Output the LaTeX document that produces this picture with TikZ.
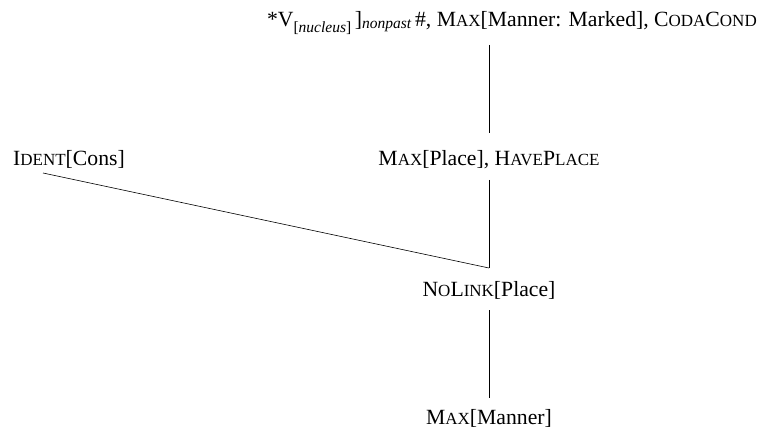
\documentclass[tikz,border=0pt]{standalone}
\usepackage{fontspec}
\setmainfont{Liberation Serif}
\newcommand{\fsc}[2]{#1{\fontsize{17}{19}\selectfont #2}}
\newcommand{\subtxt}[2]{\raisebox{#1}{\fontsize{15.5}{16}\selectfont #2}}
\begin{document}
\begin{tikzpicture}[x=1pt,y=-1pt,
  lbl/.style={inner sep=0pt, anchor=base, font=\fontsize{21.7}{25}\selectfont},
  conn/.style={draw=black, line width=0.6pt}]
\useasboundingbox (0,0) rectangle (760,430);
\node[lbl, anchor=base east] (top) at (757,27) {*V\subtxt{-6pt}{[\textit{nucleus}]}\,]\subtxt{-2pt}{\textit{nonpast}}\,\#, \fsc{M}{AX}[Manner: Marked], \fsc{C}{ODA}\fsc{C}{OND}};
\node[lbl] (mid) at (489,166) {\fsc{M}{AX}[Place], \fsc{H}{AVE}\fsc{P}{LACE}};
\node[lbl] (ident) at (69,166) {\fsc{I}{DENT}[Cons]};
\node[lbl] (nolink) at (489,297) {\fsc{N}{O}\fsc{L}{INK}[Place]};
\node[lbl] (maxm) at (489,424) {\fsc{M}{AX}[Manner]};
\coordinate (a1) at (489,45);
\coordinate (a2) at (489,133);
\coordinate (b1) at (489,180);
\coordinate (b2) at (489,268);
\coordinate (c1) at (43,173);
\coordinate (d1) at (489,310);
\coordinate (d2) at (489,398);
\draw[conn] (a1) -- (a2);
\draw[conn] (b1) -- (b2);
\draw[conn] (c1) -- (b2);
\draw[conn] (d1) -- (d2);
\end{tikzpicture}
\end{document}
